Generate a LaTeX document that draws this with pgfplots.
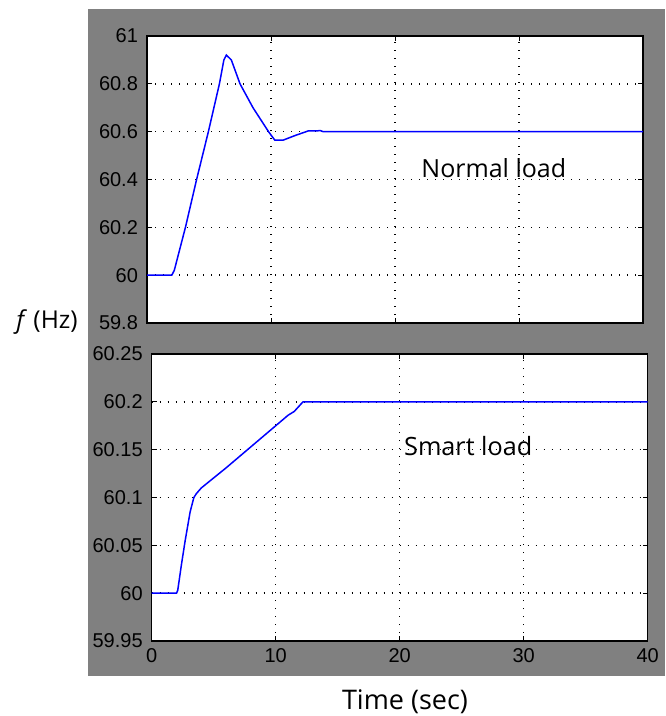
\documentclass[border=0pt]{standalone}
\usepackage{fontspec}
\setmainfont{Liberation Sans}
\newfontfamily\labelfont{Open Sans}
\usepackage{pgfplots}
\pgfplotsset{compat=1.18}
\definecolor{figgray}{RGB}{128,128,128}
\pgfplotsset{
  mystyle/.style={
    scale only axis,
    width=248pt, height=143.5pt,
    xmin=0, xmax=40,
    xtick={0,10,20,30,40},
    tick align=inside,
    major tick length=2.5pt,
    axis line style={black, line width=0.7pt},
    every tick/.style={black, line width=0.5pt},
    grid=major,
    major grid style={black, line width=0.7pt, dash pattern=on 0.7pt off 3.3pt},
    axis background/.style={fill=white},
    tick label style={font=\fontsize{10}{12}\selectfont, black},
    /pgf/number format/assume math mode=true,
    yticklabel style={xshift=-1pt},
  },
}
\begin{document}
\begin{tikzpicture}
\useasboundingbox (0,0) rectangle (332.5pt,-358pt);
\fill[figgray] (44pt,-4.5pt) rectangle (332.5pt,-338pt);
\begin{axis}[mystyle,
  at={(73.5pt,-18pt)}, anchor=north west,
  ymin=59.8, ymax=61,
  ytick={59.8,60,60.2,60.4,60.6,60.8,61},
  yticklabels={59.8,60,60.2,60.4,60.6,60.8,61},
  xticklabels={},
]
\addplot[blue, line width=0.75pt] coordinates {
(0,60) (2.0,60) (2.2,60.02) (3.1,60.2) (4.0,60.4) (4.95,60.6) (5.84,60.8)
(6.2,60.9) (6.4,60.92) (6.8,60.9) (7.5,60.8) (8.55,60.7) (9.8,60.6) (10.3,60.565)
(11.0,60.565) (12.0,60.585) (13.0,60.603) (14.0,60.604) (14.2,60.6) (40,60.6)
};
\node[anchor=west, inner sep=0pt, font=\labelfont\fontsize{12.5}{14}\selectfont] at (axis cs:22.1,60.447) {Normal load};
\end{axis}
\begin{axis}[mystyle,
  at={(75.85pt,-177pt)}, anchor=north west,
  ymin=59.95, ymax=60.25,
  ytick={59.95,60,60.05,60.1,60.15,60.2,60.25},
  yticklabels={59.95,60,60.05,60.1,60.15,60.2,60.25},
  xticklabels={0,10,20,30,40},
]
\addplot[blue, line width=0.75pt] coordinates {
(0,60) (2.0,60) (2.1,60.003) (2.4,60.03) (2.7,60.055) (3.1,60.085) (3.4,60.1) (3.6,60.104)
(4.0,60.11) (6,60.131) (8,60.153) (10,60.175) (11,60.186) (11.5,60.19) (12.2,60.2) (40,60.2)
};
\node[anchor=west, inner sep=0pt, font=\labelfont\fontsize{12.6}{14}\selectfont] at (axis cs:20.33,60.154) {Smart load};
\end{axis}
\node[font=\labelfont\fontsize{13.5}{15}\selectfont] at (202.5pt,-351pt) {Time (sec)};
\node[font=\labelfont\fontsize{12.3}{14}\selectfont] at (23.5pt,-161pt) {\textit{f} (Hz)};
\end{tikzpicture}
\end{document}
